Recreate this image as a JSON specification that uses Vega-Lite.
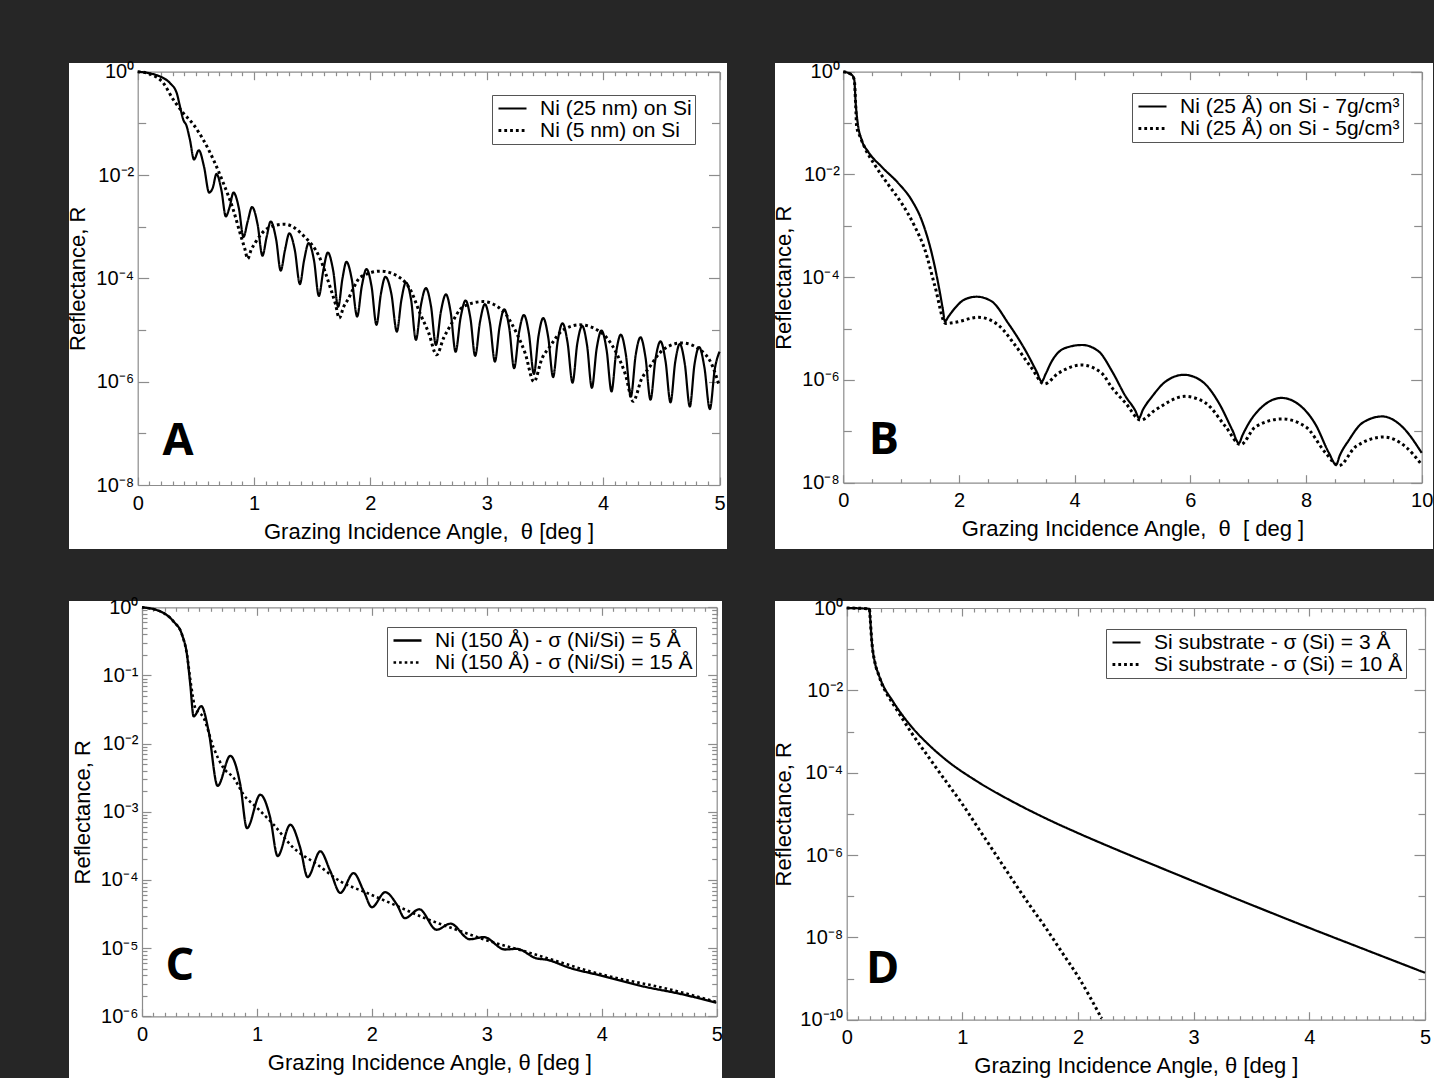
{
"$schema": "https://vega.github.io/schema/vega-lite/v6.json",
"background": "#262626",
"padding": {"left": 66, "top": 61, "right": 0, "bottom": 0},
"columns": 2,
"bounds": "flush",
"spacing": {"row": 52, "column": 48},
"resolve": {"scale": {"strokeDash": "independent", "strokeWidth": "independent", "x": "independent", "y": "independent"}, "legend": {"strokeDash": "independent"}, "axis": {"x": "independent", "y": "independent"}},
"config": {
  "view": {"fill": "white", "stroke": null},
  "font": "Liberation Sans",
  "axis": {"domainColor": "#8c8c8c", "domainWidth": 1.2, "tickColor": "#8c8c8c", "tickWidth": 1.2, "labelColor": "#000000", "titleColor": "#000000", "labelFont": "Liberation Sans", "titleFont": "Liberation Sans", "labelFontSize": 20, "titleFontSize": 22, "titleFontWeight": "normal", "grid": false, "labelFlush": false, "labelOverlap": false, "labelBound": false},
  "legend": {"orient": "top-right", "fillColor": "white", "strokeColor": "#555555", "padding": 3, "labelFont": "Liberation Sans", "labelFontSize": 21, "labelColor": "#000000", "labelLimit": 0, "symbolType": "M-1,0H3", "symbolSize": 196, "symbolStrokeColor": "black", "symbolStrokeWidth": 1, "rowPadding": 0, "labelOffset": 24, "cornerRadius": 0},
  "line": {"color": "black", "interpolate": "monotone", "strokeCap": "butt"}
},
"datasets": {
  "A": [
    {"theta":0,"R":1,"series":"25 nm"},{"theta":0.1,"R":0.933,"series":"25 nm"},{"theta":0.19,"R":0.813,"series":"25 nm"},{"theta":0.277,"R":0.603,"series":"25 nm"},{"theta":0.335,"R":0.389,"series":"25 nm"},{"theta":0.363,"R":0.214,"series":"25 nm"},{"theta":0.392,"R":0.117,"series":"25 nm"},{"theta":0.42,"R":0.0891,"series":"25 nm"},{"theta":0.449,"R":0.0479,"series":"25 nm"},{"theta":0.484,"R":0.02,"series":"25 nm"},{"theta":0.525,"R":0.0302,"series":"25 nm"},{"theta":0.57,"R":0.0145,"series":"25 nm"},{"theta":0.614,"R":0.00457,"series":"25 nm"},{"theta":0.645,"R":0.00562,"series":"25 nm"},{"theta":0.677,"R":0.0105,"series":"25 nm"},{"theta":0.72,"R":0.00501,"series":"25 nm"},{"theta":0.757,"R":0.00158,"series":"25 nm"},{"theta":0.79,"R":0.0024,"series":"25 nm"},{"theta":0.823,"R":0.00457,"series":"25 nm"},{"theta":0.87,"R":0.00224,"series":"25 nm"},{"theta":0.909,"R":0.000631,"series":"25 nm"},{"theta":0.945,"R":0.00126,"series":"25 nm"},{"theta":0.983,"R":0.0024,"series":"25 nm"},{"theta":1.03,"R":0.00112,"series":"25 nm"},{"theta":1.072,"R":0.000275,"series":"25 nm"},{"theta":1.108,"R":0.000631,"series":"25 nm"},{"theta":1.143,"R":0.00126,"series":"25 nm"},{"theta":1.19,"R":0.000562,"series":"25 nm"},{"theta":1.229,"R":0.000141,"series":"25 nm"},{"theta":1.266,"R":0.000355,"series":"25 nm"},{"theta":1.303,"R":0.000741,"series":"25 nm"},{"theta":1.35,"R":0.000355,"series":"25 nm"},{"theta":1.394,"R":7.76e-5,"series":"25 nm"},{"theta":1.43,"R":0.000224,"series":"25 nm"},{"theta":1.469,"R":0.000479,"series":"25 nm"},{"theta":1.515,"R":0.000224,"series":"25 nm"},{"theta":1.557,"R":4.57e-5,"series":"25 nm"},{"theta":1.595,"R":0.000141,"series":"25 nm"},{"theta":1.634,"R":0.000316,"series":"25 nm"},{"theta":1.68,"R":0.000141,"series":"25 nm"},{"theta":1.723,"R":2.82e-5,"series":"25 nm"},{"theta":1.76,"R":0.0001,"series":"25 nm"},{"theta":1.794,"R":0.000209,"series":"25 nm"},{"theta":1.84,"R":9.55e-5,"series":"25 nm"},{"theta":1.886,"R":1.82e-5,"series":"25 nm"},{"theta":1.926,"R":7.08e-5,"series":"25 nm"},{"theta":1.966,"R":0.000151,"series":"25 nm"},{"theta":2.01,"R":6.92e-5,"series":"25 nm"},{"theta":2.052,"R":1.26e-5,"series":"25 nm"},{"theta":2.09,"R":5.01e-5,"series":"25 nm"},{"theta":2.129,"R":0.000107,"series":"25 nm"},{"theta":2.18,"R":5.01e-5,"series":"25 nm"},{"theta":2.227,"R":9.33e-6,"series":"25 nm"},{"theta":2.266,"R":3.8e-5,"series":"25 nm"},{"theta":2.305,"R":8.32e-5,"series":"25 nm"},{"theta":2.35,"R":3.8e-5,"series":"25 nm"},{"theta":2.391,"R":6.46e-6,"series":"25 nm"},{"theta":2.434,"R":3.02e-5,"series":"25 nm"},{"theta":2.477,"R":6.46e-5,"series":"25 nm"},{"theta":2.52,"R":2.95e-5,"series":"25 nm"},{"theta":2.563,"R":5.13e-6,"series":"25 nm"},{"theta":2.606,"R":2.29e-5,"series":"25 nm"},{"theta":2.649,"R":4.9e-5,"series":"25 nm"},{"theta":2.69,"R":2.19e-5,"series":"25 nm"},{"theta":2.732,"R":3.8e-6,"series":"25 nm"},{"theta":2.775,"R":1.74e-5,"series":"25 nm"},{"theta":2.818,"R":3.72e-5,"series":"25 nm"},{"theta":2.86,"R":1.66e-5,"series":"25 nm"},{"theta":2.9,"R":3.16e-6,"series":"25 nm"},{"theta":2.942,"R":1.45e-5,"series":"25 nm"},{"theta":2.984,"R":3.16e-5,"series":"25 nm"},{"theta":3.027,"R":1.38e-5,"series":"25 nm"},{"theta":3.07,"R":2.45e-6,"series":"25 nm"},{"theta":3.11,"R":1.15e-5,"series":"25 nm"},{"theta":3.15,"R":2.51e-5,"series":"25 nm"},{"theta":3.193,"R":1.1e-5,"series":"25 nm"},{"theta":3.235,"R":1.82e-6,"series":"25 nm"},{"theta":3.277,"R":8.91e-6,"series":"25 nm"},{"theta":3.319,"R":1.95e-5,"series":"25 nm"},{"theta":3.362,"R":8.51e-6,"series":"25 nm"},{"theta":3.405,"R":1.41e-6,"series":"25 nm"},{"theta":3.445,"R":7.76e-6,"series":"25 nm"},{"theta":3.485,"R":1.7e-5,"series":"25 nm"},{"theta":3.528,"R":7.24e-6,"series":"25 nm"},{"theta":3.57,"R":1.23e-6,"series":"25 nm"},{"theta":3.61,"R":6.17e-6,"series":"25 nm"},{"theta":3.651,"R":1.35e-5,"series":"25 nm"},{"theta":3.694,"R":5.75e-6,"series":"25 nm"},{"theta":3.737,"R":9.55e-7,"series":"25 nm"},{"theta":3.778,"R":5.5e-6,"series":"25 nm"},{"theta":3.82,"R":1.2e-5,"series":"25 nm"},{"theta":3.862,"R":5.01e-6,"series":"25 nm"},{"theta":3.903,"R":7.59e-7,"series":"25 nm"},{"theta":3.945,"R":4.47e-6,"series":"25 nm"},{"theta":3.986,"R":9.77e-6,"series":"25 nm"},{"theta":4.03,"R":4.07e-6,"series":"25 nm"},{"theta":4.072,"R":6.46e-7,"series":"25 nm"},{"theta":4.112,"R":3.72e-6,"series":"25 nm"},{"theta":4.152,"R":8.13e-6,"series":"25 nm"},{"theta":4.195,"R":3.39e-6,"series":"25 nm"},{"theta":4.238,"R":5.13e-7,"series":"25 nm"},{"theta":4.28,"R":3.31e-6,"series":"25 nm"},{"theta":4.321,"R":7.24e-6,"series":"25 nm"},{"theta":4.364,"R":2.95e-6,"series":"25 nm"},{"theta":4.407,"R":4.47e-7,"series":"25 nm"},{"theta":4.45,"R":2.75e-6,"series":"25 nm"},{"theta":4.493,"R":6.03e-6,"series":"25 nm"},{"theta":4.536,"R":2.51e-6,"series":"25 nm"},{"theta":4.579,"R":3.98e-7,"series":"25 nm"},{"theta":4.62,"R":2.45e-6,"series":"25 nm"},{"theta":4.659,"R":5.37e-6,"series":"25 nm"},{"theta":4.702,"R":2.19e-6,"series":"25 nm"},{"theta":4.745,"R":3.31e-7,"series":"25 nm"},{"theta":4.785,"R":2.14e-6,"series":"25 nm"},{"theta":4.825,"R":4.68e-6,"series":"25 nm"},{"theta":4.87,"R":1.91e-6,"series":"25 nm"},{"theta":4.917,"R":2.95e-7,"series":"25 nm"},{"theta":4.96,"R":1.78e-6,"series":"25 nm"},{"theta":5,"R":3.8e-6,"series":"25 nm"},
    {"theta":0,"R":1,"series":"5 nm"},{"theta":0.1,"R":0.912,"series":"5 nm"},{"theta":0.22,"R":0.603,"series":"5 nm"},{"theta":0.306,"R":0.288,"series":"5 nm"},{"theta":0.392,"R":0.158,"series":"5 nm"},{"theta":0.478,"R":0.0955,"series":"5 nm"},{"theta":0.564,"R":0.0479,"series":"5 nm"},{"theta":0.65,"R":0.02,"series":"5 nm"},{"theta":0.735,"R":0.00708,"series":"5 nm"},{"theta":0.821,"R":0.00214,"series":"5 nm"},{"theta":0.879,"R":0.000759,"series":"5 nm"},{"theta":0.922,"R":0.000363,"series":"5 nm"},{"theta":0.945,"R":0.00024,"series":"5 nm"},{"theta":0.975,"R":0.000355,"series":"5 nm"},{"theta":1.016,"R":0.000513,"series":"5 nm"},{"theta":1.117,"R":0.000933,"series":"5 nm"},{"theta":1.26,"R":0.00112,"series":"5 nm"},{"theta":1.432,"R":0.000646,"series":"5 nm"},{"theta":1.56,"R":0.000263,"series":"5 nm"},{"theta":1.661,"R":6.03e-5,"series":"5 nm"},{"theta":1.7,"R":3.16e-5,"series":"5 nm"},{"theta":1.732,"R":1.7e-5,"series":"5 nm"},{"theta":1.77,"R":2.82e-5,"series":"5 nm"},{"theta":1.804,"R":3.8e-5,"series":"5 nm"},{"theta":1.918,"R":0.000107,"series":"5 nm"},{"theta":2.09,"R":0.000138,"series":"5 nm"},{"theta":2.262,"R":0.0001,"series":"5 nm"},{"theta":2.35,"R":5.62e-5,"series":"5 nm"},{"theta":2.425,"R":2.14e-5,"series":"5 nm"},{"theta":2.5,"R":8.91e-6,"series":"5 nm"},{"theta":2.569,"R":3.31e-6,"series":"5 nm"},{"theta":2.63,"R":7.08e-6,"series":"5 nm"},{"theta":2.683,"R":1.17e-5,"series":"5 nm"},{"theta":2.797,"R":2.82e-5,"series":"5 nm"},{"theta":2.969,"R":3.55e-5,"series":"5 nm"},{"theta":3.141,"R":2.29e-5,"series":"5 nm"},{"theta":3.256,"R":8.71e-6,"series":"5 nm"},{"theta":3.33,"R":3.55e-6,"series":"5 nm"},{"theta":3.405,"R":1e-6,"series":"5 nm"},{"theta":3.475,"R":2.82e-6,"series":"5 nm"},{"theta":3.542,"R":4.79e-6,"series":"5 nm"},{"theta":3.656,"R":1e-5,"series":"5 nm"},{"theta":3.8,"R":1.26e-5,"series":"5 nm"},{"theta":3.972,"R":9.33e-6,"series":"5 nm"},{"theta":4.115,"R":3.55e-6,"series":"5 nm"},{"theta":4.19,"R":1.41e-6,"series":"5 nm"},{"theta":4.258,"R":4.17e-7,"series":"5 nm"},{"theta":4.33,"R":1.12e-6,"series":"5 nm"},{"theta":4.401,"R":1.95e-6,"series":"5 nm"},{"theta":4.516,"R":4.17e-6,"series":"5 nm"},{"theta":4.674,"R":5.62e-6,"series":"5 nm"},{"theta":4.831,"R":4.17e-6,"series":"5 nm"},{"theta":4.93,"R":2.24e-6,"series":"5 nm"},{"theta":5,"R":8.13e-7,"series":"5 nm"}
  ],
  "B": [
    {"theta":0,"R":1,"series":"7 g/cm3"},{"theta":0.145,"R":0.871,"series":"7 g/cm3"},{"theta":0.19,"R":0.692,"series":"7 g/cm3"},{"theta":0.214,"R":0.245,"series":"7 g/cm3"},{"theta":0.249,"R":0.1,"series":"7 g/cm3"},{"theta":0.318,"R":0.0468,"series":"7 g/cm3"},{"theta":0.432,"R":0.0275,"series":"7 g/cm3"},{"theta":0.663,"R":0.0141,"series":"7 g/cm3"},{"theta":0.951,"R":0.00676,"series":"7 g/cm3"},{"theta":1.182,"R":0.00316,"series":"7 g/cm3"},{"theta":1.355,"R":0.00129,"series":"7 g/cm3"},{"theta":1.528,"R":0.000295,"series":"7 g/cm3"},{"theta":1.672,"R":4.9e-5,"series":"7 g/cm3"},{"theta":1.72,"R":2.4e-5,"series":"7 g/cm3"},{"theta":1.758,"R":1.38e-5,"series":"7 g/cm3"},{"theta":1.816,"R":1.7e-5,"series":"7 g/cm3"},{"theta":1.931,"R":2.51e-5,"series":"7 g/cm3"},{"theta":2.104,"R":3.72e-5,"series":"7 g/cm3"},{"theta":2.306,"R":4.17e-5,"series":"7 g/cm3"},{"theta":2.565,"R":3.39e-5,"series":"7 g/cm3"},{"theta":2.853,"R":1.26e-5,"series":"7 g/cm3"},{"theta":3.141,"R":3.89e-6,"series":"7 g/cm3"},{"theta":3.343,"R":1.45e-6,"series":"7 g/cm3"},{"theta":3.43,"R":9.33e-7,"series":"7 g/cm3"},{"theta":3.5,"R":1.32e-6,"series":"7 g/cm3"},{"theta":3.602,"R":2.29e-6,"series":"7 g/cm3"},{"theta":3.832,"R":4.17e-6,"series":"7 g/cm3"},{"theta":4.131,"R":4.79e-6,"series":"7 g/cm3"},{"theta":4.42,"R":3.55e-6,"series":"7 g/cm3"},{"theta":4.65,"R":1.45e-6,"series":"7 g/cm3"},{"theta":4.881,"R":4.79e-7,"series":"7 g/cm3"},{"theta":5.05,"R":2.51e-7,"series":"7 g/cm3"},{"theta":5.112,"R":1.82e-7,"series":"7 g/cm3"},{"theta":5.18,"R":2.63e-7,"series":"7 g/cm3"},{"theta":5.341,"R":4.79e-7,"series":"7 g/cm3"},{"theta":5.573,"R":9.33e-7,"series":"7 g/cm3"},{"theta":5.889,"R":1.26e-6,"series":"7 g/cm3"},{"theta":6.206,"R":9.33e-7,"series":"7 g/cm3"},{"theta":6.494,"R":3.55e-7,"series":"7 g/cm3"},{"theta":6.724,"R":1.07e-7,"series":"7 g/cm3"},{"theta":6.84,"R":5.89e-8,"series":"7 g/cm3"},{"theta":6.9,"R":8.32e-8,"series":"7 g/cm3"},{"theta":7.013,"R":1.45e-7,"series":"7 g/cm3"},{"theta":7.243,"R":3.02e-7,"series":"7 g/cm3"},{"theta":7.578,"R":4.47e-7,"series":"7 g/cm3"},{"theta":7.877,"R":3.31e-7,"series":"7 g/cm3"},{"theta":8.166,"R":1.35e-7,"series":"7 g/cm3"},{"theta":8.396,"R":3.8e-8,"series":"7 g/cm3"},{"theta":8.522,"R":2.24e-8,"series":"7 g/cm3"},{"theta":8.58,"R":3.31e-8,"series":"7 g/cm3"},{"theta":8.742,"R":6.76e-8,"series":"7 g/cm3"},{"theta":8.971,"R":1.45e-7,"series":"7 g/cm3"},{"theta":9.317,"R":1.95e-7,"series":"7 g/cm3"},{"theta":9.663,"R":1.23e-7,"series":"7 g/cm3"},{"theta":10,"R":3.8e-8,"series":"7 g/cm3"},
    {"theta":0,"R":1,"series":"5 g/cm3"},{"theta":0.145,"R":0.871,"series":"5 g/cm3"},{"theta":0.19,"R":0.692,"series":"5 g/cm3"},{"theta":0.214,"R":0.224,"series":"5 g/cm3"},{"theta":0.231,"R":0.0851,"series":"5 g/cm3"},{"theta":0.289,"R":0.055,"series":"5 g/cm3"},{"theta":0.375,"R":0.0324,"series":"5 g/cm3"},{"theta":0.548,"R":0.0151,"series":"5 g/cm3"},{"theta":0.778,"R":0.00631,"series":"5 g/cm3"},{"theta":1.009,"R":0.00275,"series":"5 g/cm3"},{"theta":1.239,"R":0.000955,"series":"5 g/cm3"},{"theta":1.412,"R":0.000339,"series":"5 g/cm3"},{"theta":1.585,"R":6.61e-5,"series":"5 g/cm3"},{"theta":1.77,"R":1.26e-5,"series":"5 g/cm3"},{"theta":1.931,"R":1.32e-5,"series":"5 g/cm3"},{"theta":2.334,"R":1.66e-5,"series":"5 g/cm3"},{"theta":2.68,"R":1.17e-5,"series":"5 g/cm3"},{"theta":2.968,"R":4.79e-6,"series":"5 g/cm3"},{"theta":3.257,"R":1.7e-6,"series":"5 g/cm3"},{"theta":3.475,"R":8.32e-7,"series":"5 g/cm3"},{"theta":3.717,"R":1.35e-6,"series":"5 g/cm3"},{"theta":4.12,"R":1.95e-6,"series":"5 g/cm3"},{"theta":4.46,"R":1.38e-6,"series":"5 g/cm3"},{"theta":4.65,"R":6.92e-7,"series":"5 g/cm3"},{"theta":4.881,"R":3.55e-7,"series":"5 g/cm3"},{"theta":5.141,"R":1.66e-7,"series":"5 g/cm3"},{"theta":5.4,"R":2.63e-7,"series":"5 g/cm3"},{"theta":5.907,"R":4.79e-7,"series":"5 g/cm3"},{"theta":6.265,"R":3.55e-7,"series":"5 g/cm3"},{"theta":6.61,"R":1.23e-7,"series":"5 g/cm3"},{"theta":6.869,"R":5.5e-8,"series":"5 g/cm3"},{"theta":7.128,"R":1.23e-7,"series":"5 g/cm3"},{"theta":7.589,"R":1.74e-7,"series":"5 g/cm3"},{"theta":7.993,"R":1.23e-7,"series":"5 g/cm3"},{"theta":8.339,"R":3.8e-8,"series":"5 g/cm3"},{"theta":8.569,"R":2.14e-8,"series":"5 g/cm3"},{"theta":8.857,"R":5.01e-8,"series":"5 g/cm3"},{"theta":9.347,"R":7.76e-8,"series":"5 g/cm3"},{"theta":9.722,"R":5.01e-8,"series":"5 g/cm3"},{"theta":10,"R":2.24e-8,"series":"5 g/cm3"}
  ],
  "C": [
    {"theta":0,"R":1,"series":"5 Å"},{"theta":0.159,"R":0.871,"series":"5 Å"},{"theta":0.275,"R":0.617,"series":"5 Å"},{"theta":0.348,"R":0.398,"series":"5 Å"},{"theta":0.391,"R":0.204,"series":"5 Å"},{"theta":0.42,"R":0.0741,"series":"5 Å"},{"theta":0.449,"R":0.0251,"series":"5 Å"},{"theta":0.516,"R":0.0355,"series":"5 Å"},{"theta":0.58,"R":0.0151,"series":"5 Å"},{"theta":0.658,"R":0.0024,"series":"5 Å"},{"theta":0.768,"R":0.00661,"series":"5 Å"},{"theta":0.855,"R":0.00251,"series":"5 Å"},{"theta":0.913,"R":0.000575,"series":"5 Å"},{"theta":1.029,"R":0.00178,"series":"5 Å"},{"theta":1.116,"R":0.000813,"series":"5 Å"},{"theta":1.18,"R":0.000224,"series":"5 Å"},{"theta":1.29,"R":0.000646,"series":"5 Å"},{"theta":1.377,"R":0.000295,"series":"5 Å"},{"theta":1.441,"R":0.00011,"series":"5 Å"},{"theta":1.551,"R":0.000263,"series":"5 Å"},{"theta":1.638,"R":0.000135,"series":"5 Å"},{"theta":1.725,"R":6.46e-5,"series":"5 Å"},{"theta":1.841,"R":0.000126,"series":"5 Å"},{"theta":1.928,"R":6.92e-5,"series":"5 Å"},{"theta":2,"R":3.98e-5,"series":"5 Å"},{"theta":2.116,"R":6.61e-5,"series":"5 Å"},{"theta":2.217,"R":4.37e-5,"series":"5 Å"},{"theta":2.287,"R":2.75e-5,"series":"5 Å"},{"theta":2.412,"R":3.72e-5,"series":"5 Å"},{"theta":2.563,"R":1.86e-5,"series":"5 Å"},{"theta":2.684,"R":2.29e-5,"series":"5 Å"},{"theta":2.852,"R":1.35e-5,"series":"5 Å"},{"theta":2.974,"R":1.45e-5,"series":"5 Å"},{"theta":3.157,"R":9.55e-6,"series":"5 Å"},{"theta":3.258,"R":9.77e-6,"series":"5 Å"},{"theta":3.432,"R":7.08e-6,"series":"5 Å"},{"theta":3.519,"R":6.76e-6,"series":"5 Å"},{"theta":3.722,"R":5.13e-6,"series":"5 Å"},{"theta":4.012,"R":3.89e-6,"series":"5 Å"},{"theta":4.359,"R":2.75e-6,"series":"5 Å"},{"theta":4.707,"R":2.09e-6,"series":"5 Å"},{"theta":4.997,"R":1.58e-6,"series":"5 Å"},
    {"theta":0,"R":1,"series":"15 Å"},{"theta":0.159,"R":0.871,"series":"15 Å"},{"theta":0.275,"R":0.617,"series":"15 Å"},{"theta":0.348,"R":0.398,"series":"15 Å"},{"theta":0.391,"R":0.204,"series":"15 Å"},{"theta":0.426,"R":0.0741,"series":"15 Å"},{"theta":0.464,"R":0.0331,"series":"15 Å"},{"theta":0.536,"R":0.024,"series":"15 Å"},{"theta":0.623,"R":0.00871,"series":"15 Å"},{"theta":0.71,"R":0.00437,"series":"15 Å"},{"theta":0.797,"R":0.00316,"series":"15 Å"},{"theta":0.884,"R":0.00178,"series":"15 Å"},{"theta":1,"R":0.00115,"series":"15 Å"},{"theta":1.145,"R":0.000646,"series":"15 Å"},{"theta":1.319,"R":0.000295,"series":"15 Å"},{"theta":1.522,"R":0.00017,"series":"15 Å"},{"theta":1.725,"R":9.55e-5,"series":"15 Å"},{"theta":1.957,"R":6.46e-5,"series":"15 Å"},{"theta":2.217,"R":4.17e-5,"series":"15 Å"},{"theta":2.446,"R":2.82e-5,"series":"15 Å"},{"theta":2.736,"R":1.86e-5,"series":"15 Å"},{"theta":3.026,"R":1.26e-5,"series":"15 Å"},{"theta":3.316,"R":9.12e-6,"series":"15 Å"},{"theta":3.606,"R":6.46e-6,"series":"15 Å"},{"theta":3.896,"R":4.57e-6,"series":"15 Å"},{"theta":4.186,"R":3.47e-6,"series":"15 Å"},{"theta":4.476,"R":2.75e-6,"series":"15 Å"},{"theta":4.765,"R":2.09e-6,"series":"15 Å"},{"theta":4.997,"R":1.62e-6,"series":"15 Å"}
  ],
  "D": [
    {"theta":0,"R":1,"series":"3 Å"},{"theta":0.196,"R":0.955,"series":"3 Å"},{"theta":0.203,"R":0.562,"series":"3 Å"},{"theta":0.216,"R":0.166,"series":"3 Å"},{"theta":0.245,"R":0.0457,"series":"3 Å"},{"theta":0.273,"R":0.0257,"series":"3 Å"},{"theta":0.302,"R":0.0158,"series":"3 Å"},{"theta":0.4,"R":0.00537,"series":"3 Å"},{"theta":0.562,"R":0.00129,"series":"3 Å"},{"theta":0.705,"R":0.00049,"series":"3 Å"},{"theta":0.85,"R":0.000214,"series":"3 Å"},{"theta":1.138,"R":5.89e-5,"series":"3 Å"},{"theta":1.426,"R":2.04e-5,"series":"3 Å"},{"theta":1.714,"R":7.94e-6,"series":"3 Å"},{"theta":2.002,"R":3.39e-6,"series":"3 Å"},{"theta":2.276,"R":1.58e-6,"series":"3 Å"},{"theta":2.766,"R":4.27e-7,"series":"3 Å"},{"theta":3.341,"R":9.33e-8,"series":"3 Å"},{"theta":3.918,"R":2.09e-8,"series":"3 Å"},{"theta":4.494,"R":4.9e-9,"series":"3 Å"},{"theta":5,"R":1.38e-9,"series":"3 Å"},
    {"theta":0,"R":1,"series":"10 Å"},{"theta":0.196,"R":0.955,"series":"10 Å"},{"theta":0.203,"R":0.562,"series":"10 Å"},{"theta":0.216,"R":0.166,"series":"10 Å"},{"theta":0.245,"R":0.0457,"series":"10 Å"},{"theta":0.273,"R":0.0251,"series":"10 Å"},{"theta":0.302,"R":0.0148,"series":"10 Å"},{"theta":0.35,"R":0.00794,"series":"10 Å"},{"theta":0.417,"R":0.00398,"series":"10 Å"},{"theta":0.562,"R":0.000912,"series":"10 Å"},{"theta":0.705,"R":0.000245,"series":"10 Å"},{"theta":0.85,"R":6.61e-5,"series":"10 Å"},{"theta":0.994,"R":1.82e-5,"series":"10 Å"},{"theta":1.138,"R":4.47e-6,"series":"10 Å"},{"theta":1.282,"R":1.1e-6,"series":"10 Å"},{"theta":1.426,"R":2.69e-7,"series":"10 Å"},{"theta":1.57,"R":6.76e-8,"series":"10 Å"},{"theta":1.714,"R":1.82e-8,"series":"10 Å"},{"theta":1.858,"R":4.47e-9,"series":"10 Å"},{"theta":2.002,"R":1.1e-9,"series":"10 Å"},{"theta":2.204,"R":1.07e-10,"series":"10 Å"}
  ]
},
"concat": [
  {
   "width": 658, "height": 486,
   "resolve": {"axis": {"x": "independent", "y": "independent"}},
   "layer": [
    {"data": {"name": "A"}, "mark": {"type": "line", "clip": true},
     "encoding": {
      "x": {"field": "theta", "type": "quantitative", "scale": {"domain": [0, 5], "range": [68.7, 650.5], "nice": false, "zero": false}, "axis": {"orient": "bottom", "offset": -64, "values": [0,1,2,3,4,5], "format": "d", "ticks": false, "labelPadding": 8, "title": "Grazing Incidence Angle,\u00a0 θ [deg ]", "titlePadding": 8}},
      "y": {"field": "R", "type": "quantitative", "scale": {"type": "log", "domain": [1e-8, 1], "range": [422, 8.7], "nice": false}, "axis": {"orient": "left", "offset": -68.7, "values": [1e-8,1e-6,1e-4,1e-2,1], "ticks": false, "labelPadding": 4, "labelExpr": "'10' + (datum.value < 0.5 ? '⁻' : '') + ['⁰','¹','²','³','⁴','⁵','⁶','⁷','⁸','⁹','¹⁰'][round(-log(datum.value)/LN10)]", "title": "Reflectance, R", "titlePadding": 6}},
      "strokeDash": {"field": "series", "type": "nominal", "scale": {"domain": ["25 nm", "5 nm"], "range": [[1, 0], [2.8, 3]]}, "legend": {"title": null, "offset": 32, "symbolStrokeWidth": 1, "labelExpr": "datum.label == '25 nm' ? 'Ni (25 nm) on Si' : 'Ni (5 nm) on Si'"}},
      "strokeWidth": {"field": "series", "type": "nominal", "scale": {"domain": ["25 nm", "5 nm"], "range": [2.2, 3]}, "legend": null}
     }},
    {"data": {"values": [{"theta": 0.346, "R": 7.2e-8}]}, "mark": {"type": "point", "opacity": 0, "size": 0},
     "encoding": {
      "x": {"field": "theta", "type": "quantitative", "scale": {"domain": [0, 5], "range": [68.7, 650.5], "nice": false, "zero": false}, "axis": {"orient": "bottom", "offset": -64, "values": [0,1,2,3,4,5], "labels": false, "domain": false, "tickSize": -8, "title": null}},
      "y": {"field": "R", "type": "quantitative", "scale": {"type": "log", "domain": [1e-8, 1], "range": [422, 8.7], "nice": false}, "axis": {"orient": "left", "offset": -68.7, "values": [1e-8,1e-6,1e-4,1e-2,1], "labels": false, "domain": false, "tickSize": -11, "title": null}}
     }},
    {"data": {"values": [{"theta": 0.346, "R": 7.2e-8}]}, "mark": {"type": "point", "opacity": 0, "size": 0},
     "encoding": {
      "x": {"field": "theta", "type": "quantitative", "scale": {"domain": [0, 5], "range": [68.7, 650.5], "nice": false, "zero": false}, "axis": {"orient": "bottom", "offset": -64, "values": [0.1,0.2,0.3,0.4,0.5,0.6,0.7,0.8,0.9,1.1,1.2,1.3,1.4,1.5,1.6,1.7,1.8,1.9,2.1,2.2,2.3,2.4,2.5,2.6,2.7,2.8,2.9,3.1,3.2,3.3,3.4,3.5,3.6,3.7,3.8,3.9,4.1,4.2,4.3,4.4,4.5,4.6,4.7,4.8,4.9], "labels": false, "domain": false, "tickSize": -4, "title": null}},
      "y": {"field": "R", "type": "quantitative", "scale": {"type": "log", "domain": [1e-8, 1], "range": [422, 8.7], "nice": false}, "axis": {"orient": "left", "offset": -68.7, "values": [1e-7,1e-5,1e-3,1e-1], "labels": false, "domain": false, "tickSize": -8, "title": null}}
     }},
    {"data": {"values": [{"theta": 0.346, "R": 7.2e-8}]}, "mark": {"type": "point", "opacity": 0, "size": 0},
     "encoding": {
      "x": {"field": "theta", "type": "quantitative", "scale": {"domain": [0, 5], "range": [68.7, 650.5], "nice": false, "zero": false}, "axis": {"orient": "top", "offset": -8.7, "values": [0,1,2,3,4,5], "labels": false, "domain": true, "tickSize": -8, "title": null}},
      "y": {"field": "R", "type": "quantitative", "scale": {"type": "log", "domain": [1e-8, 1], "range": [422, 8.7], "nice": false}, "axis": {"orient": "right", "offset": -7.5, "values": [1e-8,1e-6,1e-4,1e-2,1], "labels": false, "domain": true, "tickSize": -11, "title": null}}
     }},
    {"data": {"values": [{"theta": 0.346, "R": 7.2e-8}]}, "mark": {"type": "point", "opacity": 0, "size": 0},
     "encoding": {
      "x": {"field": "theta", "type": "quantitative", "scale": {"domain": [0, 5], "range": [68.7, 650.5], "nice": false, "zero": false}, "axis": {"orient": "top", "offset": -8.7, "values": [0.1,0.2,0.3,0.4,0.5,0.6,0.7,0.8,0.9,1.1,1.2,1.3,1.4,1.5,1.6,1.7,1.8,1.9,2.1,2.2,2.3,2.4,2.5,2.6,2.7,2.8,2.9,3.1,3.2,3.3,3.4,3.5,3.6,3.7,3.8,3.9,4.1,4.2,4.3,4.4,4.5,4.6,4.7,4.8,4.9], "labels": false, "domain": false, "tickSize": -4, "title": null}},
      "y": {"field": "R", "type": "quantitative", "scale": {"type": "log", "domain": [1e-8, 1], "range": [422, 8.7], "nice": false}, "axis": {"orient": "right", "offset": -7.5, "values": [1e-7,1e-5,1e-3,1e-1], "labels": false, "domain": false, "tickSize": -8, "title": null}}
     }},
    {"data": {"values": [{"theta": 0.346, "R": 7.2e-8, "label": "A"}]}, "mark": {"type": "text", "font": "Open Sans", "fontWeight": "bold", "fontSize": 45, "color": "black", "baseline": "middle", "align": "center"},
     "encoding": {
      "x": {"field": "theta", "type": "quantitative", "scale": {"domain": [0, 5], "range": [68.7, 650.5], "nice": false, "zero": false}, "axis": null},
      "y": {"field": "R", "type": "quantitative", "scale": {"type": "log", "domain": [1e-8, 1], "range": [422, 8.7], "nice": false}, "axis": null},
      "text": {"field": "label"}
     }}
   ]
  },
  {
   "width": 658, "height": 486,
   "resolve": {"axis": {"x": "independent", "y": "independent"}},
   "layer": [
    {"data": {"name": "B"}, "mark": {"type": "line", "clip": true},
     "encoding": {
      "x": {"field": "theta", "type": "quantitative", "scale": {"domain": [0, 10], "range": [68.3, 646.7], "nice": false, "zero": false}, "axis": {"orient": "bottom", "offset": -66.3, "values": [0,2,4,6,8,10], "format": "d", "ticks": false, "labelPadding": 8, "title": "Grazing Incidence Angle,\u00a0 θ\u00a0 [ deg ]", "titlePadding": 8}},
      "y": {"field": "R", "type": "quantitative", "scale": {"type": "log", "domain": [1e-8, 1], "range": [419.7, 8.7], "nice": false}, "axis": {"orient": "left", "offset": -68.3, "values": [1e-8,1e-6,1e-4,1e-2,1], "ticks": false, "labelPadding": 4, "labelExpr": "'10' + (datum.value < 0.5 ? '⁻' : '') + ['⁰','¹','²','³','⁴','⁵','⁶','⁷','⁸','⁹','¹⁰'][round(-log(datum.value)/LN10)]", "title": "Reflectance, R", "titlePadding": 6}},
      "strokeDash": {"field": "series", "type": "nominal", "scale": {"domain": ["7 g/cm3", "5 g/cm3"], "range": [[1, 0], [2.8, 3]]}, "legend": {"title": null, "offset": 30, "symbolStrokeWidth": 1, "labelExpr": "datum.label == '7 g/cm3' ? 'Ni (25 Å) on Si - 7g/cm³' : 'Ni (25 Å) on Si - 5g/cm³'"}},
      "strokeWidth": {"field": "series", "type": "nominal", "scale": {"domain": ["7 g/cm3", "5 g/cm3"], "range": [2.2, 3]}, "legend": null}
     }},
    {"data": {"values": [{"theta": 0.7, "R": 6.8e-8}]}, "mark": {"type": "point", "opacity": 0, "size": 0},
     "encoding": {
      "x": {"field": "theta", "type": "quantitative", "scale": {"domain": [0, 10], "range": [68.3, 646.7], "nice": false, "zero": false}, "axis": {"orient": "bottom", "offset": -66.3, "values": [0,2,4,6,8,10], "labels": false, "domain": false, "tickSize": -8, "title": null}},
      "y": {"field": "R", "type": "quantitative", "scale": {"type": "log", "domain": [1e-8, 1], "range": [419.7, 8.7], "nice": false}, "axis": {"orient": "left", "offset": -68.3, "values": [1e-8,1e-6,1e-4,1e-2,1], "labels": false, "domain": false, "tickSize": -11, "title": null}}
     }},
    {"data": {"values": [{"theta": 0.7, "R": 6.8e-8}]}, "mark": {"type": "point", "opacity": 0, "size": 0},
     "encoding": {
      "x": {"field": "theta", "type": "quantitative", "scale": {"domain": [0, 10], "range": [68.3, 646.7], "nice": false, "zero": false}, "axis": {"orient": "bottom", "offset": -66.3, "values": [0.5,1,1.5,2.5,3,3.5,4.5,5,5.5,6.5,7,7.5,8.5,9,9.5], "labels": false, "domain": false, "tickSize": -4, "title": null}},
      "y": {"field": "R", "type": "quantitative", "scale": {"type": "log", "domain": [1e-8, 1], "range": [419.7, 8.7], "nice": false}, "axis": {"orient": "left", "offset": -68.3, "values": [1e-7,1e-5,1e-3,1e-1], "labels": false, "domain": false, "tickSize": -8, "title": null}}
     }},
    {"data": {"values": [{"theta": 0.7, "R": 6.8e-8}]}, "mark": {"type": "point", "opacity": 0, "size": 0},
     "encoding": {
      "x": {"field": "theta", "type": "quantitative", "scale": {"domain": [0, 10], "range": [68.3, 646.7], "nice": false, "zero": false}, "axis": {"orient": "top", "offset": -8.7, "values": [0,2,4,6,8,10], "labels": false, "domain": true, "tickSize": -8, "title": null}},
      "y": {"field": "R", "type": "quantitative", "scale": {"type": "log", "domain": [1e-8, 1], "range": [419.7, 8.7], "nice": false}, "axis": {"orient": "right", "offset": -11.3, "values": [1e-8,1e-6,1e-4,1e-2,1], "labels": false, "domain": true, "tickSize": -11, "title": null}}
     }},
    {"data": {"values": [{"theta": 0.7, "R": 6.8e-8}]}, "mark": {"type": "point", "opacity": 0, "size": 0},
     "encoding": {
      "x": {"field": "theta", "type": "quantitative", "scale": {"domain": [0, 10], "range": [68.3, 646.7], "nice": false, "zero": false}, "axis": {"orient": "top", "offset": -8.7, "values": [0.5,1,1.5,2.5,3,3.5,4.5,5,5.5,6.5,7,7.5,8.5,9,9.5], "labels": false, "domain": false, "tickSize": -4, "title": null}},
      "y": {"field": "R", "type": "quantitative", "scale": {"type": "log", "domain": [1e-8, 1], "range": [419.7, 8.7], "nice": false}, "axis": {"orient": "right", "offset": -11.3, "values": [1e-7,1e-5,1e-3,1e-1], "labels": false, "domain": false, "tickSize": -8, "title": null}}
     }},
    {"data": {"values": [{"theta": 0.7, "R": 6.8e-8, "label": "B"}]}, "mark": {"type": "text", "font": "Open Sans", "fontWeight": "bold", "fontSize": 45, "color": "black", "baseline": "middle", "align": "center"},
     "encoding": {
      "x": {"field": "theta", "type": "quantitative", "scale": {"domain": [0, 10], "range": [68.3, 646.7], "nice": false, "zero": false}, "axis": null},
      "y": {"field": "R", "type": "quantitative", "scale": {"type": "log", "domain": [1e-8, 1], "range": [419.7, 8.7], "nice": false}, "axis": null},
      "text": {"field": "label"}
     }}
   ]
  },
  {
   "width": 653, "height": 480,
   "resolve": {"axis": {"x": "independent", "y": "independent"}},
   "layer": [
    {"data": {"name": "C"}, "mark": {"type": "line", "clip": true},
     "encoding": {
      "x": {"field": "theta", "type": "quantitative", "scale": {"domain": [0, 5], "range": [73, 647.7], "nice": false, "zero": false}, "axis": {"orient": "bottom", "offset": -64.7, "values": [0,1,2,3,4,5], "format": "d", "ticks": false, "labelPadding": 8, "title": "Grazing Incidence Angle, θ [deg ]", "titlePadding": 8}},
      "y": {"field": "R", "type": "quantitative", "scale": {"type": "log", "domain": [1e-6, 1], "range": [415.3, 6.3], "nice": false}, "axis": {"orient": "left", "offset": -73, "values": [1e-6,1e-5,1e-4,1e-3,1e-2,1e-1,1], "ticks": false, "labelPadding": 4, "labelExpr": "'10' + (datum.value < 0.5 ? '⁻' : '') + ['⁰','¹','²','³','⁴','⁵','⁶','⁷','⁸','⁹','¹⁰'][round(-log(datum.value)/LN10)]", "title": "Reflectance, R", "titlePadding": 6}},
      "strokeDash": {"field": "series", "type": "nominal", "scale": {"domain": ["5 Å", "15 Å"], "range": [[1, 0], [2.6, 3]]}, "legend": {"title": null, "offset": 26, "symbolStrokeWidth": 1, "labelExpr": "datum.label == '5 Å' ? 'Ni (150 Å) - σ (Ni/Si) = 5 Å' : 'Ni (150 Å) - σ (Ni/Si) = 15 Å'"}},
      "strokeWidth": {"field": "series", "type": "nominal", "scale": {"domain": ["5 Å", "15 Å"], "range": [2.3, 2.6]}, "legend": null}
     }},
    {"data": {"values": [{"theta": 0.33, "R": 5.5e-6}]}, "mark": {"type": "point", "opacity": 0, "size": 0},
     "encoding": {
      "x": {"field": "theta", "type": "quantitative", "scale": {"domain": [0, 5], "range": [73, 647.7], "nice": false, "zero": false}, "axis": {"orient": "bottom", "offset": -64.7, "values": [0,1,2,3,4,5], "labels": false, "domain": false, "tickSize": -8, "title": null}},
      "y": {"field": "R", "type": "quantitative", "scale": {"type": "log", "domain": [1e-6, 1], "range": [415.3, 6.3], "nice": false}, "axis": {"orient": "left", "offset": -73, "values": [1e-6,1e-5,1e-4,1e-3,1e-2,1e-1,1], "labels": false, "domain": false, "tickSize": -9, "title": null}}
     }},
    {"data": {"values": [{"theta": 0.33, "R": 5.5e-6}]}, "mark": {"type": "point", "opacity": 0, "size": 0},
     "encoding": {
      "x": {"field": "theta", "type": "quantitative", "scale": {"domain": [0, 5], "range": [73, 647.7], "nice": false, "zero": false}, "axis": {"orient": "bottom", "offset": -64.7, "values": [0.1,0.2,0.3,0.4,0.5,0.6,0.7,0.8,0.9,1.1,1.2,1.3,1.4,1.5,1.6,1.7,1.8,1.9,2.1,2.2,2.3,2.4,2.5,2.6,2.7,2.8,2.9,3.1,3.2,3.3,3.4,3.5,3.6,3.7,3.8,3.9,4.1,4.2,4.3,4.4,4.5,4.6,4.7,4.8,4.9], "labels": false, "domain": false, "tickSize": -4, "title": null}},
      "y": {"field": "R", "type": "quantitative", "scale": {"type": "log", "domain": [1e-6, 1], "range": [415.3, 6.3], "nice": false}, "axis": {"orient": "left", "offset": -73, "values": [2e-6,3e-6,4e-6,5e-6,6e-6,7e-6,8e-6,9e-6,2e-5,3e-5,4e-5,5e-5,6e-5,7e-5,8e-5,9e-5,2e-4,3e-4,4e-4,5e-4,6e-4,7e-4,8e-4,9e-4,2e-3,3e-3,4e-3,5e-3,6e-3,7e-3,8e-3,9e-3,0.02,0.03,0.04,0.05,0.06,0.07,0.08,0.09,0.2,0.3,0.4,0.5,0.6,0.7,0.8,0.9], "labels": false, "domain": false, "tickSize": -5, "title": null}}
     }},
    {"data": {"values": [{"theta": 0.33, "R": 5.5e-6}]}, "mark": {"type": "point", "opacity": 0, "size": 0},
     "encoding": {
      "x": {"field": "theta", "type": "quantitative", "scale": {"domain": [0, 5], "range": [73, 647.7], "nice": false, "zero": false}, "axis": {"orient": "top", "offset": -6.3, "values": [0,1,2,3,4,5], "labels": false, "domain": true, "tickSize": -8, "title": null}},
      "y": {"field": "R", "type": "quantitative", "scale": {"type": "log", "domain": [1e-6, 1], "range": [415.3, 6.3], "nice": false}, "axis": {"orient": "right", "offset": -5.3, "values": [1e-6,1e-5,1e-4,1e-3,1e-2,1e-1,1], "labels": false, "domain": true, "tickSize": -9, "title": null}}
     }},
    {"data": {"values": [{"theta": 0.33, "R": 5.5e-6}]}, "mark": {"type": "point", "opacity": 0, "size": 0},
     "encoding": {
      "x": {"field": "theta", "type": "quantitative", "scale": {"domain": [0, 5], "range": [73, 647.7], "nice": false, "zero": false}, "axis": {"orient": "top", "offset": -6.3, "values": [0.1,0.2,0.3,0.4,0.5,0.6,0.7,0.8,0.9,1.1,1.2,1.3,1.4,1.5,1.6,1.7,1.8,1.9,2.1,2.2,2.3,2.4,2.5,2.6,2.7,2.8,2.9,3.1,3.2,3.3,3.4,3.5,3.6,3.7,3.8,3.9,4.1,4.2,4.3,4.4,4.5,4.6,4.7,4.8,4.9], "labels": false, "domain": false, "tickSize": -4, "title": null}},
      "y": {"field": "R", "type": "quantitative", "scale": {"type": "log", "domain": [1e-6, 1], "range": [415.3, 6.3], "nice": false}, "axis": {"orient": "right", "offset": -5.3, "values": [2e-6,3e-6,4e-6,5e-6,6e-6,7e-6,8e-6,9e-6,2e-5,3e-5,4e-5,5e-5,6e-5,7e-5,8e-5,9e-5,2e-4,3e-4,4e-4,5e-4,6e-4,7e-4,8e-4,9e-4,2e-3,3e-3,4e-3,5e-3,6e-3,7e-3,8e-3,9e-3,0.02,0.03,0.04,0.05,0.06,0.07,0.08,0.09,0.2,0.3,0.4,0.5,0.6,0.7,0.8,0.9], "labels": false, "domain": false, "tickSize": -5, "title": null}}
     }},
    {"data": {"values": [{"theta": 0.33, "R": 5.5e-6, "label": "C"}]}, "mark": {"type": "text", "font": "Open Sans", "fontWeight": "bold", "fontSize": 45, "color": "black", "baseline": "middle", "align": "center"},
     "encoding": {
      "x": {"field": "theta", "type": "quantitative", "scale": {"domain": [0, 5], "range": [73, 647.7], "nice": false, "zero": false}, "axis": null},
      "y": {"field": "R", "type": "quantitative", "scale": {"type": "log", "domain": [1e-6, 1], "range": [415.3, 6.3], "nice": false}, "axis": null},
      "text": {"field": "label"}
     }}
   ]
  },
  {
   "width": 659, "height": 480,
   "resolve": {"axis": {"x": "independent", "y": "independent"}},
   "layer": [
    {"data": {"name": "D"}, "mark": {"type": "line", "clip": true},
     "encoding": {
      "x": {"field": "theta", "type": "quantitative", "scale": {"domain": [0, 5], "range": [71.7, 650], "nice": false, "zero": false}, "axis": {"orient": "bottom", "offset": -61.3, "values": [0,1,2,3,4,5], "format": "d", "ticks": false, "labelPadding": 8, "title": "Grazing Incidence Angle, θ [deg ]", "titlePadding": 8}},
      "y": {"field": "R", "type": "quantitative", "scale": {"type": "log", "domain": [1e-10, 1], "range": [418.7, 7], "nice": false}, "axis": {"orient": "left", "offset": -71.7, "values": [1e-10,1e-8,1e-6,1e-4,1e-2,1], "ticks": false, "labelPadding": 4, "labelExpr": "'10' + (datum.value < 0.5 ? '⁻' : '') + ['⁰','¹','²','³','⁴','⁵','⁶','⁷','⁸','⁹','¹⁰'][round(-log(datum.value)/LN10)]", "title": "Reflectance, R", "titlePadding": 4}},
      "strokeDash": {"field": "series", "type": "nominal", "scale": {"domain": ["3 Å", "10 Å"], "range": [[1, 0], [2.8, 3]]}, "legend": {"title": null, "offset": 28, "symbolStrokeWidth": 1, "labelExpr": "datum.label == '3 Å' ? 'Si substrate - σ (Si) = 3 Å' : 'Si substrate - σ (Si) = 10 Å'"}},
      "strokeWidth": {"field": "series", "type": "nominal", "scale": {"domain": ["3 Å", "10 Å"], "range": [2.2, 3]}, "legend": null}
     }},
    {"data": {"values": [{"theta": 0.31, "R": 1.7e-9}]}, "mark": {"type": "point", "opacity": 0, "size": 0},
     "encoding": {
      "x": {"field": "theta", "type": "quantitative", "scale": {"domain": [0, 5], "range": [71.7, 650], "nice": false, "zero": false}, "axis": {"orient": "bottom", "offset": -61.3, "values": [0,1,2,3,4,5], "labels": false, "domain": false, "tickSize": -8, "title": null}},
      "y": {"field": "R", "type": "quantitative", "scale": {"type": "log", "domain": [1e-10, 1], "range": [418.7, 7], "nice": false}, "axis": {"orient": "left", "offset": -71.7, "values": [1e-10,1e-8,1e-6,1e-4,1e-2,1], "labels": false, "domain": false, "tickSize": -11, "title": null}}
     }},
    {"data": {"values": [{"theta": 0.31, "R": 1.7e-9}]}, "mark": {"type": "point", "opacity": 0, "size": 0},
     "encoding": {
      "x": {"field": "theta", "type": "quantitative", "scale": {"domain": [0, 5], "range": [71.7, 650], "nice": false, "zero": false}, "axis": {"orient": "bottom", "offset": -61.3, "values": [0.1,0.2,0.3,0.4,0.5,0.6,0.7,0.8,0.9,1.1,1.2,1.3,1.4,1.5,1.6,1.7,1.8,1.9,2.1,2.2,2.3,2.4,2.5,2.6,2.7,2.8,2.9,3.1,3.2,3.3,3.4,3.5,3.6,3.7,3.8,3.9,4.1,4.2,4.3,4.4,4.5,4.6,4.7,4.8,4.9], "labels": false, "domain": false, "tickSize": -4, "title": null}},
      "y": {"field": "R", "type": "quantitative", "scale": {"type": "log", "domain": [1e-10, 1], "range": [418.7, 7], "nice": false}, "axis": {"orient": "left", "offset": -71.7, "values": [1e-9,1e-7,1e-5,1e-3,1e-1], "labels": false, "domain": false, "tickSize": -7, "title": null}}
     }},
    {"data": {"values": [{"theta": 0.31, "R": 1.7e-9}]}, "mark": {"type": "point", "opacity": 0, "size": 0},
     "encoding": {
      "x": {"field": "theta", "type": "quantitative", "scale": {"domain": [0, 5], "range": [71.7, 650], "nice": false, "zero": false}, "axis": {"orient": "top", "offset": -7, "values": [0,1,2,3,4,5], "labels": false, "domain": true, "tickSize": -8, "title": null}},
      "y": {"field": "R", "type": "quantitative", "scale": {"type": "log", "domain": [1e-10, 1], "range": [418.7, 7], "nice": false}, "axis": {"orient": "right", "offset": -9, "values": [1e-10,1e-8,1e-6,1e-4,1e-2,1], "labels": false, "domain": true, "tickSize": -11, "title": null}}
     }},
    {"data": {"values": [{"theta": 0.31, "R": 1.7e-9}]}, "mark": {"type": "point", "opacity": 0, "size": 0},
     "encoding": {
      "x": {"field": "theta", "type": "quantitative", "scale": {"domain": [0, 5], "range": [71.7, 650], "nice": false, "zero": false}, "axis": {"orient": "top", "offset": -7, "values": [0.1,0.2,0.3,0.4,0.5,0.6,0.7,0.8,0.9,1.1,1.2,1.3,1.4,1.5,1.6,1.7,1.8,1.9,2.1,2.2,2.3,2.4,2.5,2.6,2.7,2.8,2.9,3.1,3.2,3.3,3.4,3.5,3.6,3.7,3.8,3.9,4.1,4.2,4.3,4.4,4.5,4.6,4.7,4.8,4.9], "labels": false, "domain": false, "tickSize": -4, "title": null}},
      "y": {"field": "R", "type": "quantitative", "scale": {"type": "log", "domain": [1e-10, 1], "range": [418.7, 7], "nice": false}, "axis": {"orient": "right", "offset": -9, "values": [1e-9,1e-7,1e-5,1e-3,1e-1], "labels": false, "domain": false, "tickSize": -7, "title": null}}
     }},
    {"data": {"values": [{"theta": 0.31, "R": 1.7e-9, "label": "D"}]}, "mark": {"type": "text", "font": "Open Sans", "fontWeight": "bold", "fontSize": 45, "color": "black", "baseline": "middle", "align": "center"},
     "encoding": {
      "x": {"field": "theta", "type": "quantitative", "scale": {"domain": [0, 5], "range": [71.7, 650], "nice": false, "zero": false}, "axis": null},
      "y": {"field": "R", "type": "quantitative", "scale": {"type": "log", "domain": [1e-10, 1], "range": [418.7, 7], "nice": false}, "axis": null},
      "text": {"field": "label"}
     }}
   ]
  }
]
}
